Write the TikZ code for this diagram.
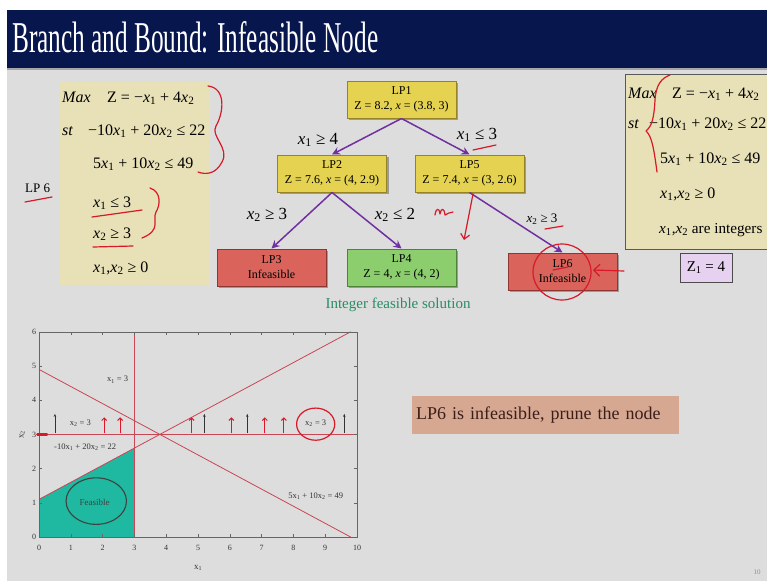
\documentclass[tikz,border=0pt]{standalone}
\usepackage{fontspec}
\setmainfont{Liberation Serif}
\usepackage{graphicx}
\usetikzlibrary{arrows.meta,shadows}
\definecolor{slidebg}{RGB}{221,221,221}
\definecolor{navy}{RGB}{8,22,78}
\definecolor{tanbox}{RGB}{232,224,182}
\definecolor{ynode}{RGB}{228,210,80}
\definecolor{yborder}{RGB}{150,130,40}
\definecolor{rnode}{RGB}{218,100,92}
\definecolor{rborder}{RGB}{140,55,50}
\definecolor{gnode}{RGB}{140,205,110}
\definecolor{gborder}{RGB}{80,130,60}
\definecolor{arrowpurple}{RGB}{112,48,160}
\definecolor{intgreen}{RGB}{40,140,100}
\definecolor{plotred}{RGB}{200,70,85}
\definecolor{feasteal}{RGB}{30,185,160}
\definecolor{handred}{RGB}{215,25,40}
\definecolor{prunebox}{RGB}{214,168,146}
\definecolor{prunetext}{RGB}{60,30,25}
\definecolor{zbox}{RGB}{230,210,240}
\newcommand\vx[1]{\textit{x}\textsubscript{#1}}
\newcommand\ux[1]{x\textsubscript{#1}}
\tikzset{
  eq/.style={inner sep=0pt, anchor=base west, font=\fontsize{16}{16}\selectfont},
  tnode/.style={draw, line width=1pt, minimum width=109pt, minimum height=37pt,
    align=center, inner sep=1pt, font=\fontsize{12}{15}\selectfont,
    drop shadow={shadow xshift=2pt, shadow yshift=-2pt, opacity=0.45, fill=black!70}},
  ynodestyle/.style={tnode, fill=ynode, draw=yborder},
  rnodestyle/.style={tnode, fill=rnode, draw=rborder},
  gnodestyle/.style={tnode, fill=gnode, draw=gborder},
  branch/.style={draw=arrowpurple, line width=1.5pt, -{Stealth[length=8pt,width=8pt]}},
  elabel/.style={inner sep=0pt, font=\fontsize{17}{17}\selectfont},
  handstroke/.style={draw=handred, line width=1.2pt, line cap=round, line join=round},
  plotline/.style={draw=plotred, line width=0.8pt},
  plotlabel/.style={inner sep=0pt, font=\fontsize{8.5}{9}\selectfont, text=black!80},
  ticklabel/.style={inner sep=1pt, font=\fontsize{8}{8}\selectfont, text=black!80}
}
\begin{document}
\begin{tikzpicture}[x=1pt,y=-1pt]
\clip (0,0) rectangle (767,581);
\fill[white] (0,0) rectangle (767,581);
\fill[slidebg] (7,10) rectangle (767,581);
\fill[navy] (7,10) rectangle (767,68);
\fill[black!35] (7,68) rectangle (767,70);
\node[anchor=base west, inner sep=0pt, text=white] (title) at (12,52)
  {\resizebox{366pt}{31pt}{Branch and Bound: Infeasible Node}};

% left LP box
\node[fill=tanbox, anchor=north west, minimum width=150pt, minimum height=203pt, inner sep=0pt] (lpL) at (60,82) {};
\node[eq] (l1a) at (62,102) {\textit{Max}};
\node[eq] (l1b) at (107,102) {Z = −\vx1 + 4\vx2};
\node[eq] (l2a) at (62,135) {\textit{st}};
\node[eq] (l2b) at (88,135) {−10\vx1 + 20\vx2 ≤ 22};
\node[eq] (l3) at (93,168) {5\vx1 + 10\vx2 ≤ 49};
\node[eq] (l4) at (93,207) {\vx1 ≤ 3};
\node[eq] (l5) at (93,238) {\vx2 ≥ 3};
\node[eq] (l6) at (93,272) {\vx1,\vx2 ≥ 0};
\node[anchor=base west, inner sep=0pt, font=\fontsize{13}{13}\selectfont] (lp6lab) at (25,192) {LP 6};

% tree
\node[ynodestyle] (lp1) at (401.5,99.5) {LP1\\Z = 8.2, \textit{x} = (3.8, 3)};
\node[ynodestyle] (lp2) at (332,173.5) {LP2\\Z = 7.6, \textit{x} = (4, 2.9)};
\node[ynodestyle] (lp5) at (469.5,173.5) {LP5\\Z = 7.4, \textit{x} = (3, 2.6)};
\node[rnodestyle] (lp3) at (271.5,267.5) {LP3\\Infeasible};
\node[gnodestyle] (lp4) at (401.5,267.5) {LP4\\Z = 4, \textit{x} = (4, 2)};
\node[rnodestyle] (lp6) at (562.5,271.5) {LP6\\Infeasible};
\draw[branch] (lp1.south) -- (lp2.north);
\draw[branch] (lp1.south) -- (lp5.north);
\draw[branch] (lp2.south) -- (lp3.north);
\draw[branch] (lp2.south) -- (lp4.north);
\draw[branch] (lp5.south) -- (lp6.north);
\node[elabel] (e12) at (318,140) {\vx1 ≥ 4};
\node[elabel] (e15) at (477,135) {\vx1 ≤ 3};
\node[elabel] (e23) at (267,215) {\vx2 ≥ 3};
\node[elabel] (e24) at (395,215) {\vx2 ≤ 2};
\node[elabel, font=\fontsize{13}{13}\selectfont] (e56) at (542,219) {\vx2 ≥ 3};
\node[inner sep=0pt, anchor=base, text=intgreen, font=\fontsize{15}{15}\selectfont] (intfs) at (398,308) {Integer feasible solution};

% right LP box
\node[fill=tanbox, draw=black!65, line width=0.8pt, anchor=north west, minimum width=160pt, minimum height=175pt, inner sep=0pt] (lpR) at (625,74) {};
\node[eq] (r1a) at (628,98) {\textit{Max}};
\node[eq] (r1b) at (672,98) {Z = −\vx1 + 4\vx2};
\node[eq] (r2a) at (628,128) {\textit{st}};
\node[eq] (r2b) at (649,128) {−10\vx1 + 20\vx2 ≤ 22};
\node[eq] (r3) at (660,163) {5\vx1 + 10\vx2 ≤ 49};
\node[eq] (r4) at (660,198) {\vx1,\vx2 ≥ 0};
\node[eq, font=\fontsize{15.2}{16}\selectfont] (r5) at (659,233) {\vx1,\vx2 are integers};
\node[fill=zbox, draw=black!70, line width=1pt, minimum width=52pt, minimum height=29pt, inner sep=0pt,
  font=\fontsize{15}{15}\selectfont] (zb) at (706,267.5) {Z\textsubscript{1} = 4};

% prune box
\node[fill=prunebox, text=prunetext, anchor=north west, minimum height=38pt, text width=259pt,
  inner xsep=4pt, inner ysep=0pt, align=left, font=\fontsize{18}{18}\selectfont] (prune) at (412,396)
  {LP6 is infeasible, prune the node};
\node[inner sep=0pt, text=black!45, font=\fontsize{7}{7}\selectfont] (pg) at (757,572) {10};

% plot
\begin{scope}[shift={(39,537)}, x=31.8pt, y=34.2pt]
  \fill[feasteal] (0,0) -- (3,0) -- (3,2.6) -- (0,1.1) -- cycle;
  \draw[plotline] (3,0) -- (3,6);
  \draw[plotline] (0,4.9) -- (9.8,0);
  \draw[plotline] (0,1.1) -- (9.8,6);
  \draw[plotline, line width=1.6pt] (0,3) -- (10,3);
  \draw[black!60, line width=0.6pt] (0,0) rectangle (10,6);
  \foreach \i in {0,...,10} {
    \draw[black!60] (\i,0) -- (\i,0.08);
    \draw[black!60] (\i,6) -- (\i,5.92);
    \node[ticklabel] at (\i,-0.32) {\i};
  }
  \foreach \j in {0,...,6} {
    \draw[black!60] (0,\j) -- (0.1,\j);
    \draw[black!60] (10,\j) -- (9.9,\j);
    \node[ticklabel, anchor=east] at (-0.05,\j) {\j};
  }
  \foreach \a in {0.5,5.2,6.55,9.6}
    \draw[black!80, line width=0.5pt, -{Stealth[length=3pt,width=2.5pt]}] (\a,3.05) -- (\a,3.6);
  \foreach \a in {2.05,2.55,4.8,6.05,7.1,7.7}
    \draw[handstroke, line width=1pt, -{Straight Barb[length=2.5pt,width=5pt]}] (\a,3.05) -- (\a,3.5);
  \draw[handstroke, line width=2.5pt] (-0.05,3) -- (0.25,3);
  \node[plotlabel] (lx1) at (2.47,4.6) {\ux1 = 3};
  \node[plotlabel] (lx2a) at (1.3,3.33) {\ux2 = 3};
  \node[plotlabel] (lc1) at (1.45,2.62) {-10\ux1 + 20\ux2 = 22};
  \node[plotlabel] (lc2) at (8.7,1.2) {5\ux1 + 10\ux2 = 49};
  \node[plotlabel] (lx2b) at (8.7,3.33) {\ux2 = 3};
  \node[plotlabel, font=\fontsize{9}{9}\selectfont, text=black!75] (feas) at (1.75,1.0) {Feasible};
  \draw[handstroke] (8.7,3.3) ellipse [x radius=0.6, y radius=0.47];
  \draw[black!75, line width=1.1pt] (1.8,1.05) ellipse [x radius=0.95, y radius=0.68];
  \node[ticklabel, font=\fontsize{9}{9}\selectfont] (xl) at (5,-0.9) {\ux1};
\end{scope}
\node[ticklabel, rotate=90, font=\fontsize{9}{9}\selectfont] (yl) at (22,434.5) {\ux2};

% hand annotations
\draw[handstroke] (208,86) .. controls (226,88) and (224,112) .. (216,126)
  .. controls (210,136) and (230,148) .. (222,162) .. controls (216,174) and (206,175) .. (198,172);
\draw[handstroke] (150,188) .. controls (162,192) and (160,206) .. (156,212)
  .. controls (152,220) and (162,230) .. (142,238);
\draw[handstroke] (92,217) -- (142,210);
\draw[handstroke] (93,247) -- (133,246);
\draw[handstroke] (25,202) -- (52,197);
\draw[handstroke] (473,150) -- (496,145);
\draw[handstroke] (545,229) -- (563,226);
\draw[handstroke] (435,215) .. controls (436,208) and (439,207) .. (440,214)
  .. controls (441,208) and (444,207) .. (445,215) .. controls (447,212) and (450,214) .. (453,212);
\draw[handstroke, -{Straight Barb[length=5pt,width=9pt]}] (473,194) -- (464,240);
\draw[handstroke] (562,272) ellipse [x radius=29, y radius=28];
\draw[handstroke, -{Straight Barb[length=6pt,width=12pt]}] (624,271) -- (593,270);
\draw[handstroke] (553,270) -- (568,267);
\draw[handstroke] (670,75) .. controls (662,78) and (656,84) .. (655,100)
  .. controls (654,118) and (652,126) .. (646,131) .. controls (652,136) and (654,150) .. (657,172);
\end{tikzpicture}
\end{document}
